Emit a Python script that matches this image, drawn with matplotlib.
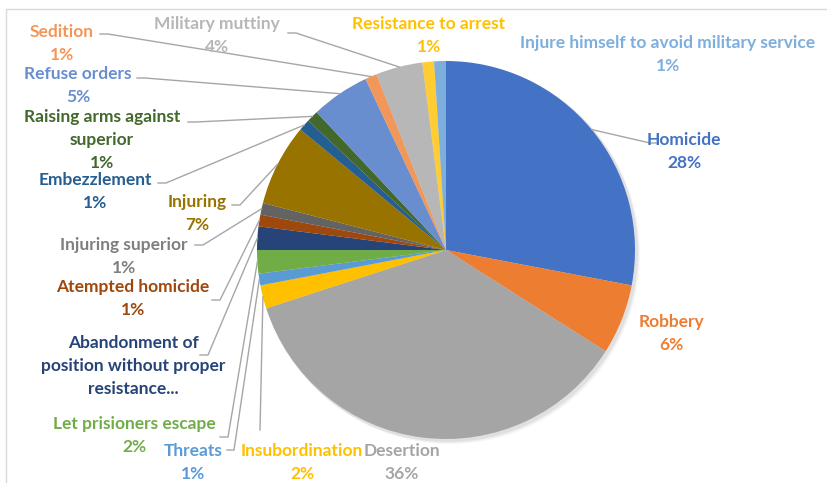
import matplotlib
matplotlib.use("Agg")
import matplotlib.pyplot as plt
from matplotlib.patches import Rectangle, Circle
import numpy as np

# ---------------- data ----------------
categories = ["Homicide", "Robbery", "Desertion", "Insubordination", "Threats",
              "Let prisioners escape",
              "Abandonment of\nposition without proper\nresistance...",
              "Atempted homicide", "Injuring superior", "Injuring", "Embezzlement",
              "Raising arms against\nsuperior", "Refuse orders", "Sedition",
              "Military muttiny", "Resistance to arrest",
              "Injure himself to avoid military service"]
shares = [28, 6, 36, 2, 1, 2, 2, 1, 1, 7, 1, 1, 5, 1, 4, 1, 1]
show_pct = [True] * 6 + [False] + [True] * 10

colors = ["#4472C4", "#ED7D31", "#A5A5A5", "#FFC000", "#5B9BD5", "#70AD47",
          "#264478", "#9E480E", "#636363", "#997300", "#255E91", "#43682B",
          "#698ED0", "#F1975A", "#B7B7B7", "#FFCD33", "#7CAFDD"]
text_colors = ["#4472C4", "#ED7D31", "#A5A5A5", "#FFC000", "#5B9BD5", "#70AD47",
               "#264478", "#9E480E", "#7F7F7F", "#997300", "#255E91", "#43682B",
               "#698ED0", "#F1975A", "#B7B7B7", "#FFC000", "#7CAFDD"]

# ---------------- layout (pixel coords, y from top) ----------------
W, H = 828, 483
CX, CY, R = 446, 250, 189
LSTEP = 23.0

def P(y):
    return H - y

# first-line centre of each label
label_pos = [(684, 140), (671, 322), (402, 451), (302, 451), (193, 451),
             (134, 424), (133, 343), (133, 287), (124, 245), (197, 202),
             (95, 180), (102, 117), (78, 74), (62, 32), (217, 24),
             (429, 24), (668, 43)]
# leader polylines from the label (None = no leader)
leader_start = [[(656, 143), (650, 143)], None, None, [(260, 430)],
                [(227, 450), (234, 450)], [(220, 437), (228, 437)],
                [(200, 355), (208, 355)], [(212, 300), (220, 300)],
                [(195, 245), (203, 245)], [(232, 205), (240, 205)],
                [(158, 183), (166, 183)], [(188, 122), (196, 122)],
                [(137, 78), (145, 78)], [(100, 34), (108, 34)],
                [(288, 33), (296, 33)], None, None]

plt.rcParams['font.family'] = ['Lato', 'DejaVu Sans']
fig = plt.figure(figsize=(W / 100, H / 100), dpi=100)
ax = fig.add_axes([0, 0, 1, 1])

# chart border
ax.add_patch(Rectangle((6, P(H + 20)), W + 20, H + 20 - 9, fill=False,
                       edgecolor="#D9D9D9", linewidth=1.0, zorder=0))

# soft shadow
for i, a in enumerate([0.05, 0.04, 0.03]):
    ax.add_patch(Circle((CX + 2 + i, P(CY) - 2 - i), R + 1, color="black",
                        alpha=a, lw=0, zorder=1))

wedges, _ = ax.pie(shares, colors=colors, startangle=90, counterclock=False,
                   center=(CX, P(CY)), radius=R,
                   wedgeprops=dict(linewidth=0, zorder=2))

for i, w in enumerate(wedges):
    lines = categories[i].split("\n")
    if show_pct[i]:
        lines.append(f"{shares[i]}%")
    x0, y0 = label_pos[i]
    for k, t in enumerate(lines):
        ax.text(x0, P(y0 + k * LSTEP), t, ha="center", va="center",
                fontsize=12.5, fontweight="bold", color=text_colors[i], zorder=5)
    if leader_start[i] is not None:
        mid = np.deg2rad((w.theta1 + w.theta2) / 2)
        ex = CX + R * np.cos(mid)
        ey = P(CY) + R * np.sin(mid)
        pts = [(x, P(y)) for x, y in leader_start[i]] + [(ex, ey)]
        xs, ys = zip(*pts)
        ax.plot(xs, ys, color="#A6A6A6", lw=1.0, zorder=4)

ax.set_xlim(0, W)
ax.set_ylim(0, H)
ax.set_aspect("equal")
ax.axis("off")
fig.savefig("out.png", dpi=100)
